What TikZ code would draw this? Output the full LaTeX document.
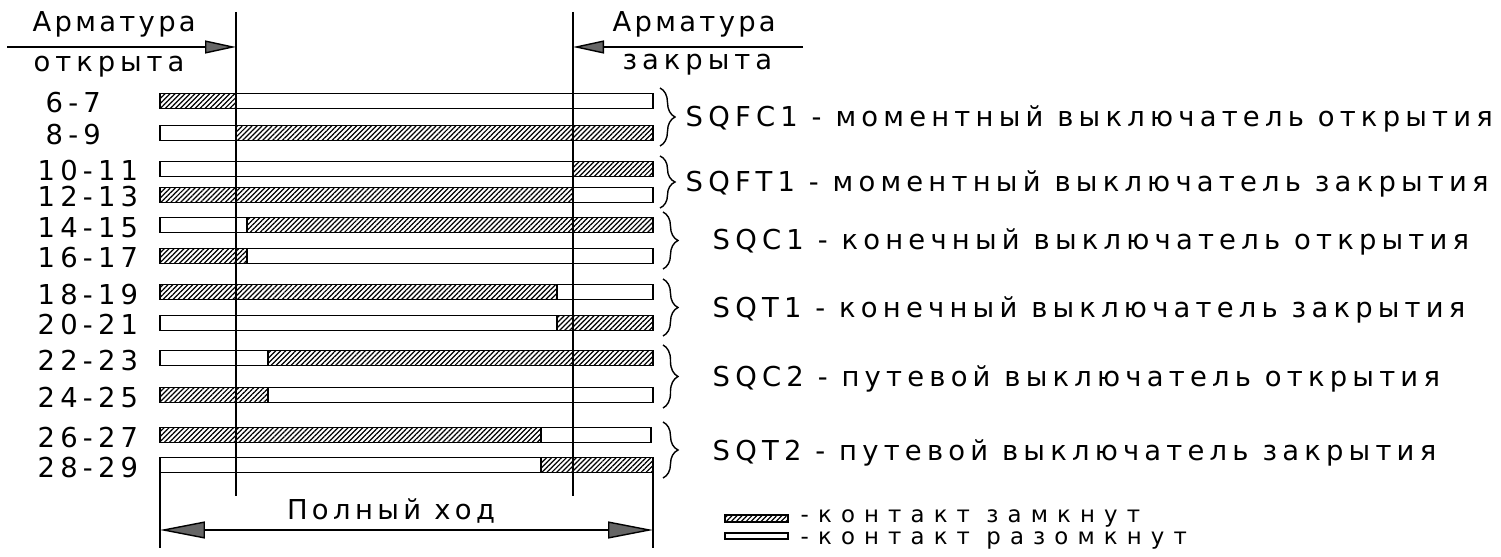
\documentclass[tikz,border=0pt]{standalone}
\usepackage{fontspec}
\setmainfont{DejaVu Sans}[LetterSpace=19]
\usetikzlibrary{arrows.meta,patterns.meta,decorations.pathreplacing}

\begin{document}
\begin{tikzpicture}[
  x=0.02cm,y=-0.02cm,
  font=\fontsize{15.6pt}{18pt}\selectfont,
  line width=0.8pt,
  on/.style={draw,pattern={Lines[angle=45,distance=2pt,line width=0.7pt]}},
  off/.style={draw,fill=white},
  lbl/.style={anchor=base west,inner sep=0pt},
  legend/.style={lbl,font=\fontsize{13pt}{14pt}\selectfont\addfontfeature{LetterSpace=40}},
  dimarrow/.style={-{Triangle[length=0.62cm,width=0.26cm,fill=black!60]}},
  fullarrow/.style={{Triangle[length=0.9cm,width=0.34cm,fill=black!60]}-{Triangle[length=0.9cm,width=0.34cm,fill=black!60]}},
  grp/.style={decorate,decoration={brace,amplitude=0.3cm}}
]
\useasboundingbox (0,0) rectangle (1501,557);

\node[lbl] (ao1) at (32,32) {\addfontfeature{LetterSpace=12}Арматура};
\node[lbl] (ao2) at (33,72) {\addfontfeature{LetterSpace=18}открыта};
\node[lbl] (az1) at (612,32) {\addfontfeature{LetterSpace=12}Арматура};
\node[lbl] (az2) at (622,70) {\addfontfeature{LetterSpace=18}закрыта};

\draw[off] (160,93.5) rectangle (653,108.5);  \draw[on] (160,93.5) rectangle (236,108.5);
\draw[off] (160,125.5) rectangle (653,140.5); \draw[on] (236,125.5) rectangle (653,140.5);
\draw[off] (160,161.5) rectangle (653,176.5); \draw[on] (573,161.5) rectangle (653,176.5);
\draw[off] (160,187.5) rectangle (653,202.5); \draw[on] (160,187.5) rectangle (573,202.5);
\draw[off] (160,217.5) rectangle (653,232.5); \draw[on] (247,217.5) rectangle (653,232.5);
\draw[off] (160,248.5) rectangle (653,263.5); \draw[on] (160,248.5) rectangle (247,263.5);
\draw[off] (160,284.5) rectangle (653,299.5); \draw[on] (160,284.5) rectangle (557,299.5);
\draw[off] (160,315.5) rectangle (653,330.5); \draw[on] (557,315.5) rectangle (653,330.5);
\draw[off] (160,350.5) rectangle (653,365.5); \draw[on] (268,350.5) rectangle (653,365.5);
\draw[off] (160,387.5) rectangle (653,402.5); \draw[on] (160,387.5) rectangle (268,402.5);
\draw[off] (160,427.5) rectangle (651,442.5); \draw[on] (160,427.5) rectangle (541,442.5);
\draw[off] (160,457.5) rectangle (653,472.5); \draw[on] (541,457.5) rectangle (653,472.5);

\node[lbl] (c67) at (45,113) {6-7};
\node[lbl] (c89) at (45,145) {8-9};
\node[lbl] (c1011) at (37,181) {10-11};
\node[lbl] (c1213) at (37,207) {12-13};
\node[lbl] (c1415) at (37,237) {14-15};
\node[lbl] (c1617) at (37,268) {16-17};
\node[lbl] (c1819) at (37,304) {18-19};
\node[lbl] (c2021) at (37,335) {20-21};
\node[lbl] (c2223) at (37,370) {22-23};
\node[lbl] (c2425) at (37,407) {24-25};
\node[lbl] (c2627) at (37,447) {26-27};
\node[lbl] (c2829) at (37,477) {28-29};

\coordinate (lt) at (236,12);
\coordinate (lb) at (236,496);
\coordinate (rt) at (573,12);
\coordinate (rb) at (573,496);
\draw (lt) -- (lb);
\draw (rt) -- (rb);

\coordinate (oa) at (7,47);
\coordinate (za) at (803,47);
\draw[dimarrow] (oa) -- (lt |- oa);
\draw[dimarrow] (za) -- (rt |- za);

\draw[grp] (660,88) -- (660,146);
\draw[grp] (660,156) -- (660,208);
\draw[grp] (663,212) -- (663,269);
\draw[grp] (663,279) -- (663,336);
\draw[grp] (663,345) -- (663,408);
\draw[grp] (663,422) -- (663,478);

\node[lbl] (sqfc1) at (685,127) {SQFC1 - моментный выключатель открытия};
\node[lbl] (sqft1) at (685,192) {SQFT1 - моментный выключатель закрытия};
\node[lbl] (sqc1) at (712,250) {SQC1 - конечный выключатель открытия};
\node[lbl] (sqt1) at (712,317) {SQT1 - конечный выключатель закрытия};
\node[lbl] (sqc2) at (712,386) {SQC2 - путевой выключатель открытия};
\node[lbl] (sqt2) at (712,460) {SQT2 - путевой выключатель закрытия};

\coordinate (fa) at (160,530);
\coordinate (fb) at (653,530);
\draw (160,472.5) -- (160,548);
\draw (653,472.5) -- (653,548);
\draw[fullarrow] (fa) -- (fb);
\node[anchor=base,inner sep=0pt] (hod) at (391,519) {\addfontfeature{LetterSpace=16}Полный ход};

\draw[on] (725,515) rectangle (788,522);
\draw[off] (725,533) rectangle (788,539);
\node[legend] (zam) at (800,522) {-контакт замкнут};
\node[legend] (raz) at (800,544) {-контакт разомкнут};
\end{tikzpicture}
\end{document}
